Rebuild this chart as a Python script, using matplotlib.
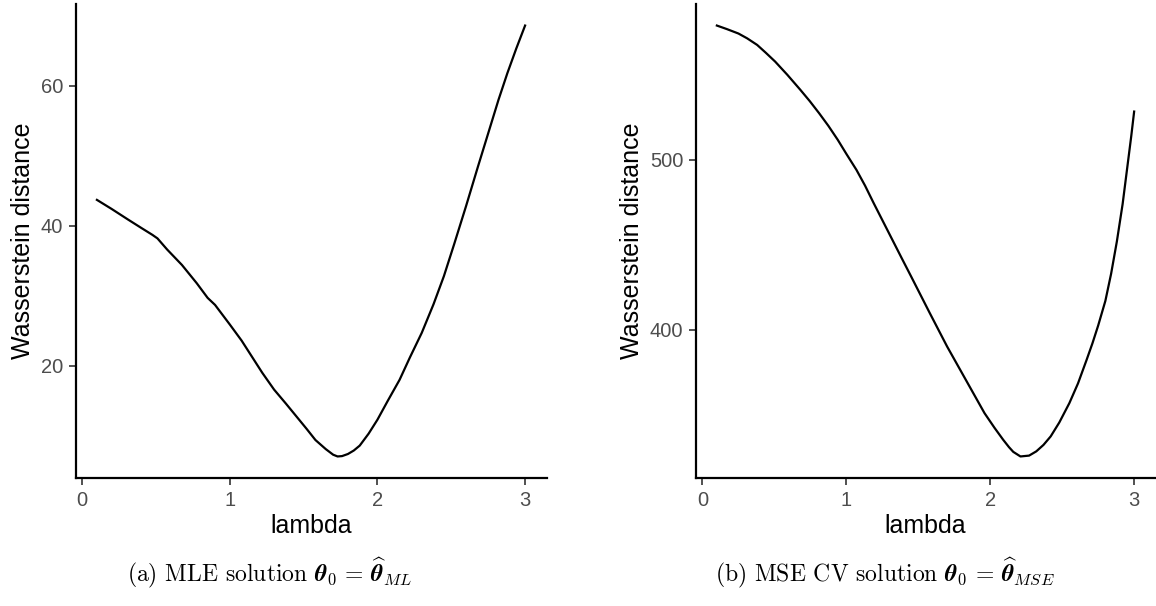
import matplotlib
matplotlib.use("Agg")
import matplotlib.pyplot as plt

# ---- data ----
lam_a = [0.10, 0.20, 0.31, 0.40, 0.476, 0.51, 0.576, 0.676, 0.776, 0.85, 0.90, 1.00,
         1.08, 1.15, 1.22, 1.30, 1.38, 1.45, 1.52, 1.58, 1.65, 1.70, 1.73, 1.76,
         1.80, 1.84, 1.88, 1.94, 2.00, 2.07, 2.15, 2.22, 2.30, 2.38, 2.45, 2.52,
         2.60, 2.68, 2.75, 2.82, 2.88, 2.94, 3.00]
wd_a = [43.7, 42.4, 40.9, 39.7, 38.7, 38.2, 36.6, 34.4, 31.8, 29.7, 28.7, 25.9,
        23.6, 21.3, 19.0, 16.6, 14.6, 12.8, 11.0, 9.4, 8.1, 7.3, 7.05, 7.1,
        7.4, 7.9, 8.6, 10.3, 12.3, 15.0, 18.0, 21.2, 24.7, 28.8, 32.8, 37.4,
        42.8, 48.4, 53.2, 58.0, 61.8, 65.3, 68.6]

lam_b = [0.10, 0.17, 0.25, 0.31, 0.38, 0.44, 0.505, 0.59, 0.68, 0.745, 0.81, 0.875,
         0.94, 1.00, 1.07, 1.13, 1.19, 1.255, 1.32, 1.385, 1.45, 1.515, 1.58, 1.64,
         1.70, 1.765, 1.83, 1.895, 1.96, 2.03, 2.09, 2.13, 2.16, 2.21, 2.27, 2.32,
         2.37, 2.42, 2.48, 2.55, 2.61, 2.67, 2.71, 2.75, 2.80, 2.84, 2.88, 2.92,
         2.95, 2.98, 3.00]
wd_b = [579.0, 576.9, 574.3, 571.5, 567.6, 563.0, 557.8, 550.0, 541.2, 534.6, 527.5, 520.0,
        511.8, 503.5, 494.1, 484.8, 474.5, 463.7, 452.9, 442.1, 431.4, 420.6, 409.8, 400.0,
        390.2, 380.4, 370.6, 360.8, 351.0, 342.3, 335.3, 331.0, 328.2, 325.5, 326.0, 328.5,
        332.3, 337.3, 345.5, 356.9, 368.5, 382.4, 392.0, 402.5, 417.0, 433.0, 452.0, 474.0,
        494.0, 514.0, 528.4]

xticks = [0, 1, 2, 3]
yticks_a = [20, 40, 60]
yticks_b = [400, 500]

x_label = "lambda"
y_label = "Wasserstein distance"
cap_a = r"(a) MLE solution $\boldsymbol{\theta}_0\,=\,\widehat{\boldsymbol{\theta}}_{ML}$"
cap_b = r"(b) MSE CV solution $\boldsymbol{\theta}_0\,=\,\widehat{\boldsymbol{\theta}}_{MSE}$"

plt.rcParams["mathtext.fontset"] = "cm"
plt.rcParams["font.family"] = ["Liberation Sans", "DejaVu Sans"]

W, H = 1156, 606
fig = plt.figure(figsize=(W / 100, H / 100), dpi=100)
fig.patch.set_facecolor("white")


def panel(rect, x, y, yticks):
    ax = fig.add_axes(rect)
    ax.plot(x, y, color="black", lw=1.6, solid_joinstyle="round")
    xr = max(x) - min(x)
    yr = max(y) - min(y)
    ax.set_xlim(min(x) - 0.05 * xr, max(x) + 0.05 * xr)
    ax.set_ylim(min(y) - 0.05 * yr, max(y) + 0.05 * yr)
    ax.set_xticks(xticks)
    ax.set_yticks(yticks)
    for s in ["top", "right"]:
        ax.spines[s].set_visible(False)
    for s in ["left", "bottom"]:
        ax.spines[s].set_linewidth(1.6)
        ax.spines[s].set_color("black")
    ax.tick_params(axis="both", length=5, width=1.2, color="#333333",
                   labelsize=14.5, labelcolor="#4D4D4D", pad=4)
    ax.set_xlabel(x_label, fontsize=18, labelpad=3)
    ax.set_ylabel(y_label, fontsize=18, labelpad=4)
    return ax


# pixel geometry -> figure fractions
def rect(x0, x1, ytop, ybot):
    return [x0 / W, (H - ybot) / H, (x1 - x0) / W, (ybot - ytop) / H]


ax1 = panel(rect(75.5, 546.5, 4, 478), lam_a, wd_a, yticks_a)
ax2 = panel(rect(696, 1155, 4, 478), lam_b, wd_b, yticks_b)

fig.text(270 / W, 1 - 573 / H, cap_a, ha="center", va="center",
         fontsize=17, family="cmr10")
fig.text(885 / W, 1 - 573 / H, cap_b, ha="center", va="center",
         fontsize=17, family="cmr10")

fig.savefig("out.png", dpi=100, facecolor="white")
